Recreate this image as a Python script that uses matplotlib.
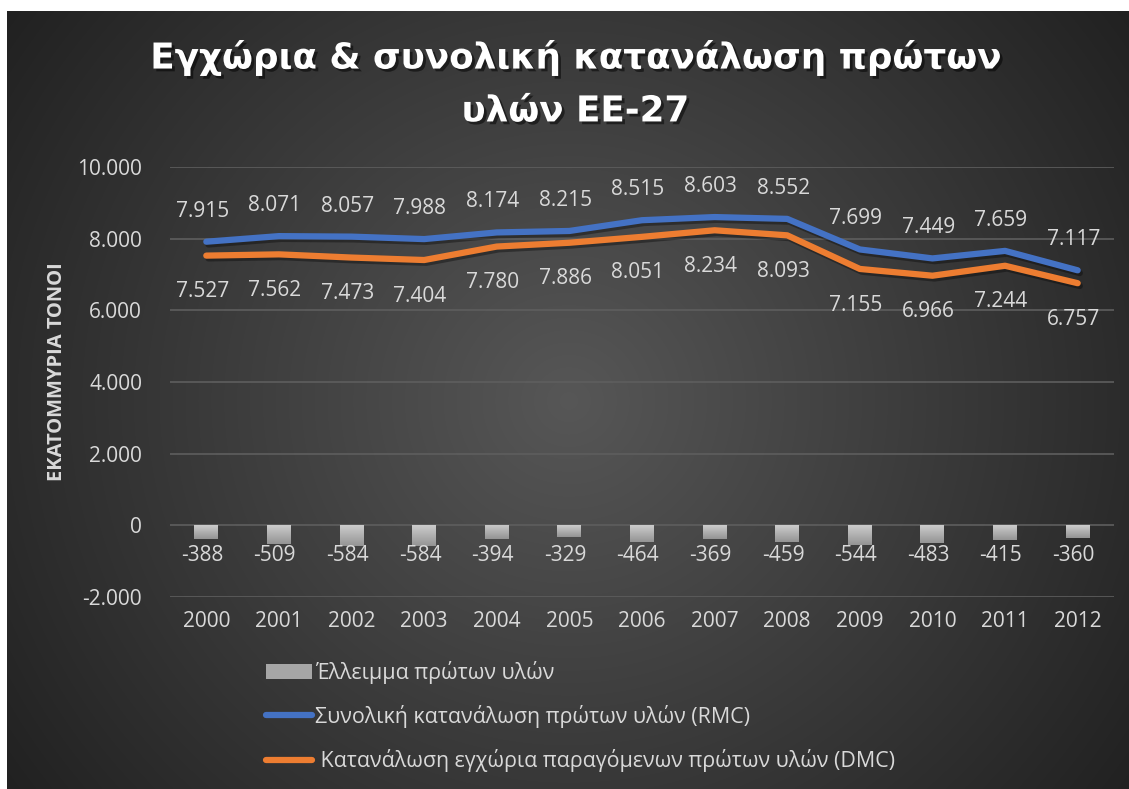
import numpy as np
import matplotlib
matplotlib.use("Agg")
import matplotlib.pyplot as plt
from matplotlib.patches import Patch
from matplotlib.lines import Line2D
import matplotlib.patheffects as pe

plt.rcParams['font.family'] = ['Open Sans', 'DejaVu Sans']

years = ['2000', '2001', '2002', '2003', '2004', '2005', '2006', '2007', '2008', '2009', '2010', '2011', '2012']
rmc = [7915, 8071, 8057, 7988, 8174, 8215, 8515, 8603, 8552, 7699, 7449, 7659, 7117]
dmc = [7527, 7562, 7473, 7404, 7780, 7886, 8051, 8234, 8093, 7155, 6966, 7244, 6757]
deficit = [-388, -509, -584, -584, -394, -329, -464, -369, -459, -544, -483, -415, -360]

title = "Εγχώρια & συνολική κατανάλωση πρώτων\nυλών ΕΕ-27"
ylabel = "ΕΚΑΤΟΜΜΥΡΙΑ ΤΟΝΟΙ"
leg_labels = ["Έλλειμμα πρώτων υλών",
              "Συνολική κατανάλωση πρώτων υλών (RMC)",
              " Κατανάλωση εγχώρια παραγόμενων πρώτων υλών (DMC)"]

W, H = 1129, 789
fig = plt.figure(figsize=(W / 100, H / 100), dpi=100)
fig.patch.set_facecolor('white')

# radial gradient background
bg = fig.add_axes([7 / W, 0, 1 - 7 / W, 1 - 11 / H], zorder=-10)
ny, nx = 400, 560
yy, xx = np.mgrid[0:ny, 0:nx]
cx, cy = nx * 0.50, ny * 0.50
d = np.sqrt(((xx - cx) / nx) ** 2 + ((yy - cy) / ny * 0.72) ** 2)
d = d / d.max()
val = 0.34 - 0.21 * d
img = np.dstack([val, val, val])
bg.imshow(img, aspect='auto', extent=[0, 1, 0, 1], interpolation='bilinear')
bg.axis('off')

ax = fig.add_axes([170 / W, 1 - 597 / H, (1114 - 170) / W, (597 - 167) / H])
ax.set_facecolor('none')
x = np.arange(len(years))

# bars with gradient
bars = ax.bar(x, deficit, width=0.33, color='#a6a6a6', zorder=3)
grad = np.linspace(0.80, 0.58, 50).reshape(-1, 1)
for b in bars:
    b.set_facecolor('none')
    x0, y0 = b.get_x(), b.get_y()
    w, h = b.get_width(), b.get_height()
    im = ax.imshow(np.dstack([grad] * 3), extent=[x0, x0 + w, y0 + h, y0],
                   aspect='auto', zorder=3, interpolation='bilinear')
    im.set_clip_path(b)

shadow = [pe.SimpleLineShadow(offset=(1.5, -2), shadow_color='black', alpha=0.35), pe.Normal()]
ax.plot(x, rmc, color='#4472C4', lw=4.5, solid_capstyle='round', zorder=5, path_effects=shadow)
ax.plot(x, dmc, color='#ED7D31', lw=4.5, solid_capstyle='round', zorder=4, path_effects=shadow)

lab_col = '#d9d9d9'
fs = 15
fmt = lambda v: f"{v:,}".replace(',', '.')
for i in range(len(years)):
    ax.annotate(fmt(rmc[i]), (x[i], rmc[i]), xytext=(-3, 22), textcoords='offset points',
                ha='center', va='center', fontsize=fs, color=lab_col)
    ax.annotate(fmt(dmc[i]), (x[i], dmc[i]), xytext=(-3, -26), textcoords='offset points',
                ha='center', va='center', fontsize=fs, color=lab_col)
    ax.annotate(fmt(deficit[i]), (x[i], 0), xytext=(-3, -22), textcoords='offset points',
                ha='center', va='center', fontsize=fs, color=lab_col)

ax.set_xlim(-0.5, len(years) - 0.5)
ax.set_ylim(-2000, 10000)
ax.set_yticks(np.arange(-2000, 10001, 2000))
ax.set_yticklabels([fmt(v) for v in range(-2000, 10001, 2000)])
ax.set_xticks(x)
ax.set_xticklabels(years)
ax.tick_params(axis='both', length=0, colors=lab_col, labelsize=fs)
ax.tick_params(axis='y', pad=20)
ax.tick_params(axis='x', pad=10)
ax.grid(axis='y', color='#5e5e5e', lw=1.2, zorder=0)
for s in ax.spines.values():
    s.set_visible(False)

fig.text(57 / W, 1 - 372 / H, ylabel, rotation=90, ha='center', va='center',
         fontsize=14.5, fontweight='bold', color=lab_col)

fig.text(575 / W, 1 - 84 / H, title, ha='center', va='center', fontsize=25.7,
         fontweight='bold', color='white', linespacing=1.7,
         family=['DejaVu Sans'],
         path_effects=[pe.withSimplePatchShadow(offset=(2, -2), shadow_rgbFace='black', alpha=0.5)])

handles = [Patch(facecolor='#a6a6a6', edgecolor='none'),
           Line2D([], [], color='#4472C4', lw=4.5, solid_capstyle='round'),
           Line2D([], [], color='#ED7D31', lw=4.5, solid_capstyle='round')]
leg = fig.legend(handles, leg_labels, loc='upper left', bbox_to_anchor=(257 / W, 1 - 652 / H),
                 frameon=False, fontsize=15.4, labelcolor=lab_col, handlelength=2.15,
                 handletextpad=0.15, labelspacing=1.0, borderaxespad=0)

fig.savefig('out.png', dpi=100, facecolor='white')
